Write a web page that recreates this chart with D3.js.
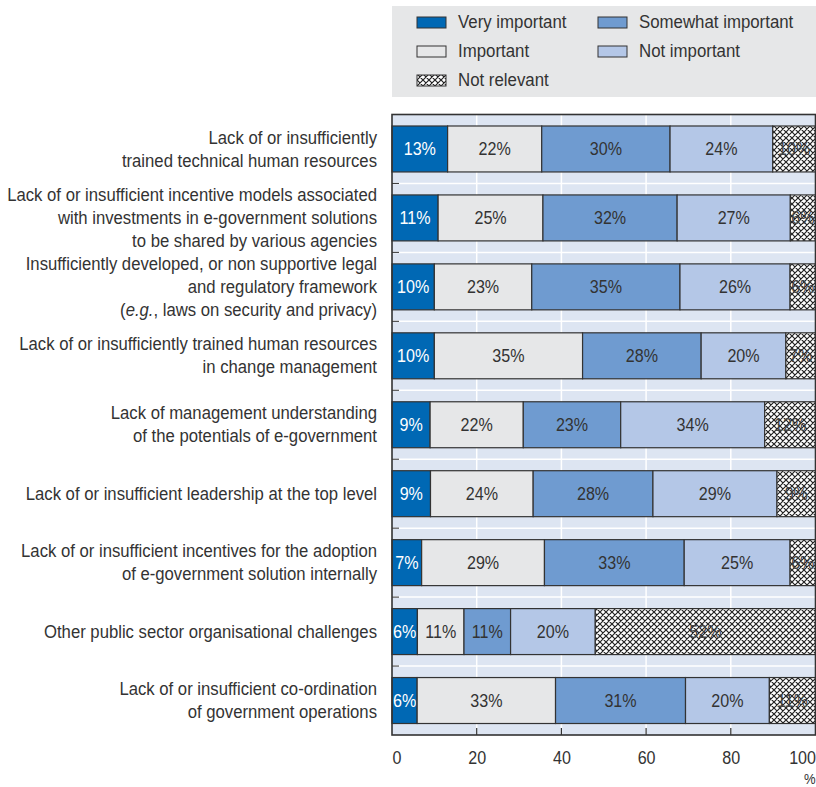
<!DOCTYPE html>
<html>
<head>
<meta charset="utf-8">
<script src="https://cdn.jsdelivr.net/npm/d3@7/dist/d3.min.js"></script>
<style>
  html, body { margin: 0; padding: 0; background: #fff; }
  svg { display: block; }
  text { font-family: "Liberation Sans", Arial, "DejaVu Sans Condensed", sans-serif; fill: #333; }
</style>
</head>
<body>
<svg id="chart" width="816" height="787"></svg>
<script>
// ---------- DATA ----------
const categories = [
  "Lack of or insufficiently|trained technical human resources",
  "Lack of or insufficient incentive models associated|with investments in e-government solutions|to be shared by various agencies",
  "Insufficiently developed, or non supportive legal|and regulatory framework|(_e.g._, laws on security and privacy)",
  "Lack of or insufficiently trained human resources|in change management",
  "Lack of management understanding|of the potentials of e-government",
  "Lack of or insufficient leadership at the top level",
  "Lack of or insufficient incentives for the adoption|of e-government solution internally",
  "Other public sector organisational challenges",
  "Lack of or insufficient co-ordination|of government operations"
];
const seriesNames = ["Very important", "Important", "Somewhat important", "Not important", "Not relevant"];
const veryImportant = [13, 11, 10, 10, 9, 9, 7, 6, 6];
const important     = [22, 25, 23, 35, 22, 24, 29, 11, 33];
const somewhat      = [30, 32, 35, 28, 23, 28, 33, 11, 31];
const notImportant  = [24, 27, 26, 20, 34, 29, 25, 20, 20];
const notRelevant   = [10, 6, 6, 7, 12, 9, 6, 52, 11];
const xTicks = [0, 20, 40, 60, 80, 100];
const unitLabel = "%";

// ---------- SETUP ----------
const seriesValues = [veryImportant, important, somewhat, notImportant, notRelevant];
const rows = categories.map((c, i) => {
  const r = { cat: c };
  seriesNames.forEach((s, j) => r[s] = seriesValues[j][i]);
  return r;
});

const svg = d3.select("#chart");
const plot = { left: 392, right: 815.5, top: 114.5, bottom: 735 };
const SX = 0.87; // horizontal condensing to mimic a narrow typeface

const colors = {
  "Very important": "#0068b4",
  "Important": "#e6e7e8",
  "Somewhat important": "#6f9bd0",
  "Not important": "#b4c7e7",
  "Not relevant": "url(#hatch)"
};
const textColors = {
  "Very important": "#ffffff",
  "Important": "#333",
  "Somewhat important": "#333",
  "Not important": "#333",
  "Not relevant": "#444"
};

// pattern
const defs = svg.append("defs");
const pat = defs.append("pattern")
  .attr("id", "hatch").attr("patternUnits", "userSpaceOnUse")
  .attr("width", 6).attr("height", 6);
pat.append("rect").attr("width", 6).attr("height", 6).attr("fill", "#fff");
pat.append("path").attr("d", "M0,0 L6,6 M6,0 L0,6 M-1,5 L1,7 M5,-1 L7,1 M-1,1 L1,-1 M5,7 L7,5")
  .attr("stroke", "#222").attr("stroke-width", 1.2);

const x = d3.scaleLinear().domain([0, 100]).range([plot.left, plot.right]);
const y = d3.scaleBand().domain(d3.range(categories.length))
  .range([plot.top, plot.bottom]).paddingInner(1/3).paddingOuter(1/6);

// ---------- LEGEND ----------
svg.append("rect").attr("x", 392).attr("y", 6).attr("width", 424).attr("height", 91).attr("fill", "#e6e7e8");
const legendPos = [
  { name: "Very important", x: 417, y: 22 },
  { name: "Somewhat important", x: 598, y: 22 },
  { name: "Important", x: 417, y: 51 },
  { name: "Not important", x: 598, y: 51 },
  { name: "Not relevant", x: 417, y: 80 }
];
const lg = svg.append("g").selectAll("g").data(legendPos).join("g")
  .attr("transform", d => `translate(${d.x},${d.y})`);
lg.append("rect").attr("x", 0).attr("y", -5).attr("width", 29).attr("height", 11)
  .attr("fill", d => colors[d.name]).attr("stroke", "#333").attr("stroke-width", 1);
lg.append("text").attr("transform", `translate(41,0) scale(${SX + 0.04},1)`).attr("dy", "0.33em")
  .style("font-size", "18.5px").text(d => d.name);

// ---------- PLOT BACKGROUND ----------
svg.append("rect").attr("x", plot.left).attr("y", plot.top)
  .attr("width", plot.right - plot.left).attr("height", plot.bottom - plot.top)
  .attr("fill", "#dde5f2");

// vertical gridlines
svg.append("g").selectAll("line").data(xTicks.slice(1, -1)).join("line")
  .attr("x1", d => x(d)).attr("x2", d => x(d))
  .attr("y1", plot.top).attr("y2", plot.bottom)
  .attr("stroke", "#fff").attr("stroke-width", 1.5);

// horizontal separators between bands
const step = y.step();
const seps = d3.range(1, categories.length).map(i => plot.top + i * step);
svg.append("g").selectAll("line").data(seps).join("line")
  .attr("x1", plot.left).attr("x2", plot.right)
  .attr("y1", d => d).attr("y2", d => d)
  .attr("stroke", "#fff").attr("stroke-width", 1.5);
svg.append("g").selectAll("line").data(seps).join("line")
  .attr("x1", plot.left).attr("x2", plot.left + 7)
  .attr("y1", d => d).attr("y2", d => d)
  .attr("stroke", "#333").attr("stroke-width", 1);

// ---------- BARS ----------
const stack = d3.stack().keys(seriesNames).offset(d3.stackOffsetExpand);
const stacked = stack(rows);

const layers = svg.append("g").selectAll("g").data(stacked).join("g");
layers.selectAll("rect").data(d => d.map((v, i) => ({ s: d.key, v, i }))).join("rect")
  .attr("x", d => x(d.v[0] * 100))
  .attr("y", d => y(d.i))
  .attr("width", d => x(d.v[1] * 100) - x(d.v[0] * 100))
  .attr("height", y.bandwidth())
  .attr("fill", d => colors[d.s])
  .attr("stroke", "#333").attr("stroke-width", 1.2);

layers.selectAll("text").data(d => d.map((v, i) => ({ s: d.key, v, i }))).join("text")
  .attr("transform", d => `translate(${(x(d.v[0] * 100) + x(d.v[1] * 100)) / 2},${y(d.i) + y.bandwidth() / 2}) scale(${SX},1)`)
  .attr("dy", "0.35em")
  .attr("text-anchor", "middle")
  .style("font-size", "18.5px")
  .style("fill", d => textColors[d.s])
  .text(d => d.v.data[d.s] + "%");

// frame
svg.append("rect").attr("x", plot.left).attr("y", plot.top)
  .attr("width", plot.right - plot.left).attr("height", plot.bottom - plot.top)
  .attr("fill", "none").attr("stroke", "#333").attr("stroke-width", 1.6);

// bottom inner ticks
svg.append("g").selectAll("line").data(xTicks.slice(1, -1)).join("line")
  .attr("x1", d => x(d)).attr("x2", d => x(d))
  .attr("y1", plot.bottom - 7).attr("y2", plot.bottom)
  .attr("stroke", "#333").attr("stroke-width", 1.2);

// ---------- X AXIS LABELS ----------
const xAxis = d3.axisBottom(x).tickValues(xTicks).tickSize(0).tickPadding(0).tickFormat(d3.format("d"));
const ax = svg.append("g").attr("transform", `translate(0,${plot.bottom})`).call(xAxis);
ax.select(".domain").remove();
ax.selectAll("text")
  .attr("y", 29.5).attr("dy", "0")
  .attr("transform", `scale(${SX},1)`)
  .style("font-size", "18.5px")
  .attr("fill", "#333")
  .attr("text-anchor", d => d === 0 ? "start" : (d === 100 ? "end" : "middle"));
ax.attr("font-family", null).attr("font-size", null);
svg.append("text").attr("transform", `translate(${plot.right},784) scale(${SX},1)`)
  .attr("text-anchor", "end").style("font-size", "15px").text(unitLabel);

// ---------- CATEGORY LABELS ----------
const lineH = 23;
const labelSize = 17.5;
// measure the widest line to choose a narrow-face width that fits the label column
const probe = svg.append("text").style("font-size", labelSize + "px").text("Lack of or insufficient incentive models associated");
const probeW = probe.node().getComputedTextLength();
probe.remove();
const labelSX = Math.min(1, 370 / probeW);

const cg = svg.append("g").attr("transform", `translate(377,0) scale(${labelSX},1)`);
categories.forEach((c, i) => {
  const lines = c.split("|");
  const cy = y(i) + y.bandwidth() / 2;
  const t = cg.append("text").attr("text-anchor", "end").style("font-size", labelSize + "px");
  lines.forEach((ln, k) => {
    const baseY = cy + (k - (lines.length - 1) / 2) * lineH;
    const parts = ln.split("_");
    let first = true;
    parts.forEach((p, pi) => {
      if (p === "") return;
      const ts = t.append("tspan").text(p);
      if (first) { ts.attr("x", 0).attr("y", baseY).attr("dy", "0.35em"); first = false; }
      if (pi % 2 === 1) ts.style("font-style", "italic");
    });
  });
});
</script>
</body>
</html>
